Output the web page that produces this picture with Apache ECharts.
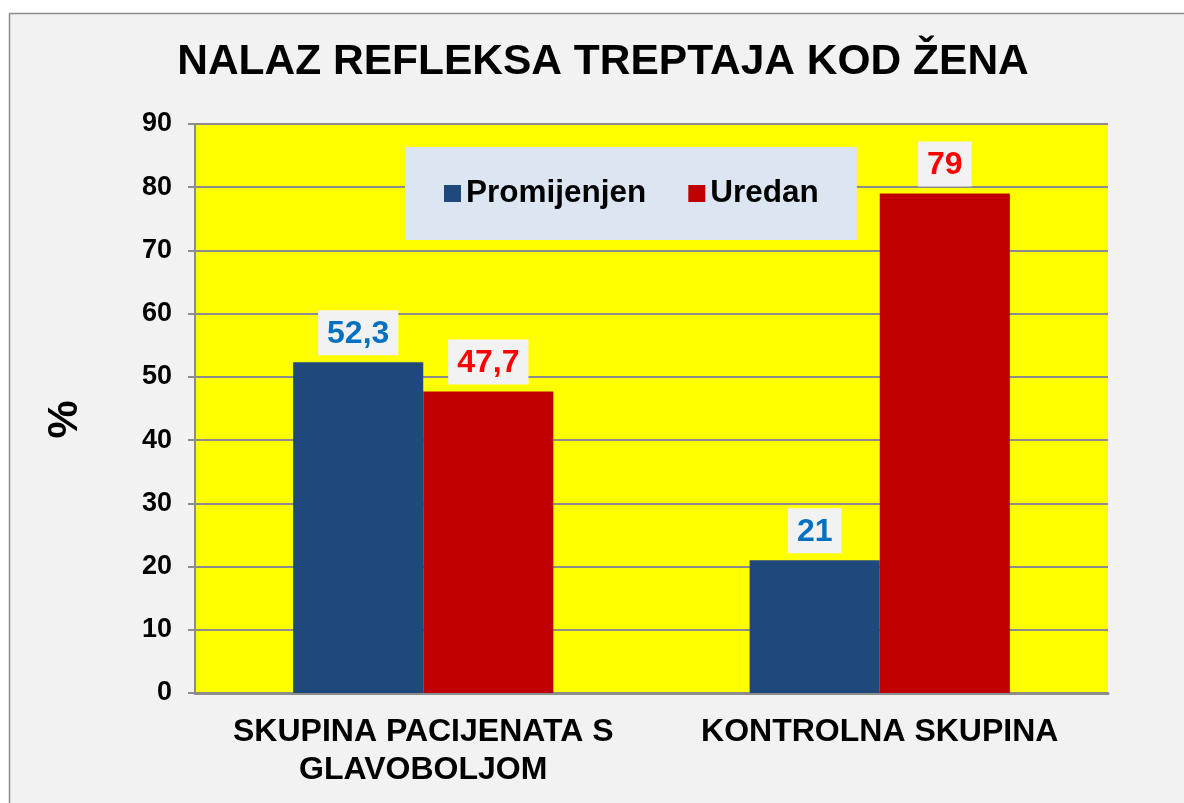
<!DOCTYPE html>
<html>
<head>
<meta charset="utf-8">
<script src="https://cdn.jsdelivr.net/npm/echarts@6/dist/echarts.min.js"></script>
<style>
  html, body { margin: 0; padding: 0; background: #ffffff; }
  #chart { width: 1184px; height: 803px; }
</style>
</head>
<body>
<div id="chart"></div>
<script>
// Blink reflex findings in women, percentages per group
const categories = ['SKUPINA PACIJENATA S\nGLAVOBOLJOM', 'KONTROLNA SKUPINA'];
const seriesNames = ['Promijenjen', 'Uredan'];
const promijenjen = [52.3, 21];
const uredan = [47.7, 79];
const yTicks = [0, 10, 20, 30, 40, 50, 60, 70, 80, 90];

const FONT = '"Liberation Sans", Arial, sans-serif';
const fmt = p => String(p.value).replace('.', ',');

const chart = echarts.init(document.getElementById('chart'));

function valueLabel(color) {
  return {
    show: true,
    position: 'top',
    distance: 7,
    formatter: fmt,
    color: color,
    fontFamily: FONT,
    fontWeight: 'bold',
    fontSize: 32,
    lineHeight: 33,
    backgroundColor: '#f2f2f2',
    padding: [7, 9, 5, 9]
  };
}

chart.setOption({
  backgroundColor: '#ffffff',
  animation: false,
  graphic: [{
    type: 'rect',
    z: -10,
    silent: true,
    shape: { x: 9.5, y: 13.5, width: 1200, height: 820 },
    style: { fill: '#f2f2f2', stroke: '#8c8c8c', lineWidth: 1.5 }
  }],
  title: {
    text: 'NALAZ REFLEKSA TREPTAJA KOD ŽENA',
    left: 598,
    textAlign: 'center',
    top: 36,
    textStyle: { fontFamily: FONT, fontWeight: 'bold', fontSize: 42.5, color: '#000000' }
  },
  legend: {
    data: seriesNames,
    left: 405,
    top: 147,
    backgroundColor: '#dce6f2',
    padding: [30, 38, 30, 39],
    itemWidth: 17,
    itemHeight: 17,
    itemGap: 42,
    icon: 'rect',
    textStyle: { fontFamily: FONT, fontWeight: 'bold', fontSize: 31.5, lineHeight: 33, color: '#000000' }
  },
  grid: {
    left: 195,
    right: 1184 - 1108,
    top: 124,
    bottom: 803 - 693,
    show: true,
    backgroundColor: '#ffff00',
    borderWidth: 0
  },
  xAxis: {
    type: 'category',
    data: categories,
    axisLine: { lineStyle: { color: '#8c8c8c', width: 3 } },
    axisTick: { show: false },
    axisLabel: {
      interval: 0,
      fontFamily: FONT, fontWeight: 'bold', fontSize: 32, color: '#000000',
      margin: 20, lineHeight: 38
    }
  },
  yAxis: {
    type: 'value',
    min: yTicks[0],
    max: yTicks[yTicks.length - 1],
    interval: 10,
    name: '%',
    nameLocation: 'middle',
    nameGap: 108,
    nameRotate: 90,
    nameTextStyle: {
      fontFamily: FONT, fontWeight: 'bold', fontSize: 43, color: '#000000',
      padding: [0, 22, 0, 0]
    },
    axisLine: { show: true, lineStyle: { color: '#8c8c8c', width: 2 } },
    axisTick: { show: true, length: 7, lineStyle: { color: '#8c8c8c', width: 2 } },
    splitLine: { lineStyle: { color: '#8c8c8c', width: 2 } },
    axisLabel: {
      fontFamily: FONT, fontWeight: 'bold', fontSize: 27, color: '#000000', margin: 23
    }
  },
  series: [
    {
      name: seriesNames[0],
      type: 'bar',
      data: promijenjen,
      barGap: '0%',
      barCategoryGap: '43%',
      itemStyle: { color: '#1f497d' },
      label: valueLabel('#0070c0')
    },
    {
      name: seriesNames[1],
      type: 'bar',
      data: uredan,
      itemStyle: { color: '#c00000' },
      label: valueLabel('#ff0000')
    }
  ]
});
</script>
</body>
</html>
